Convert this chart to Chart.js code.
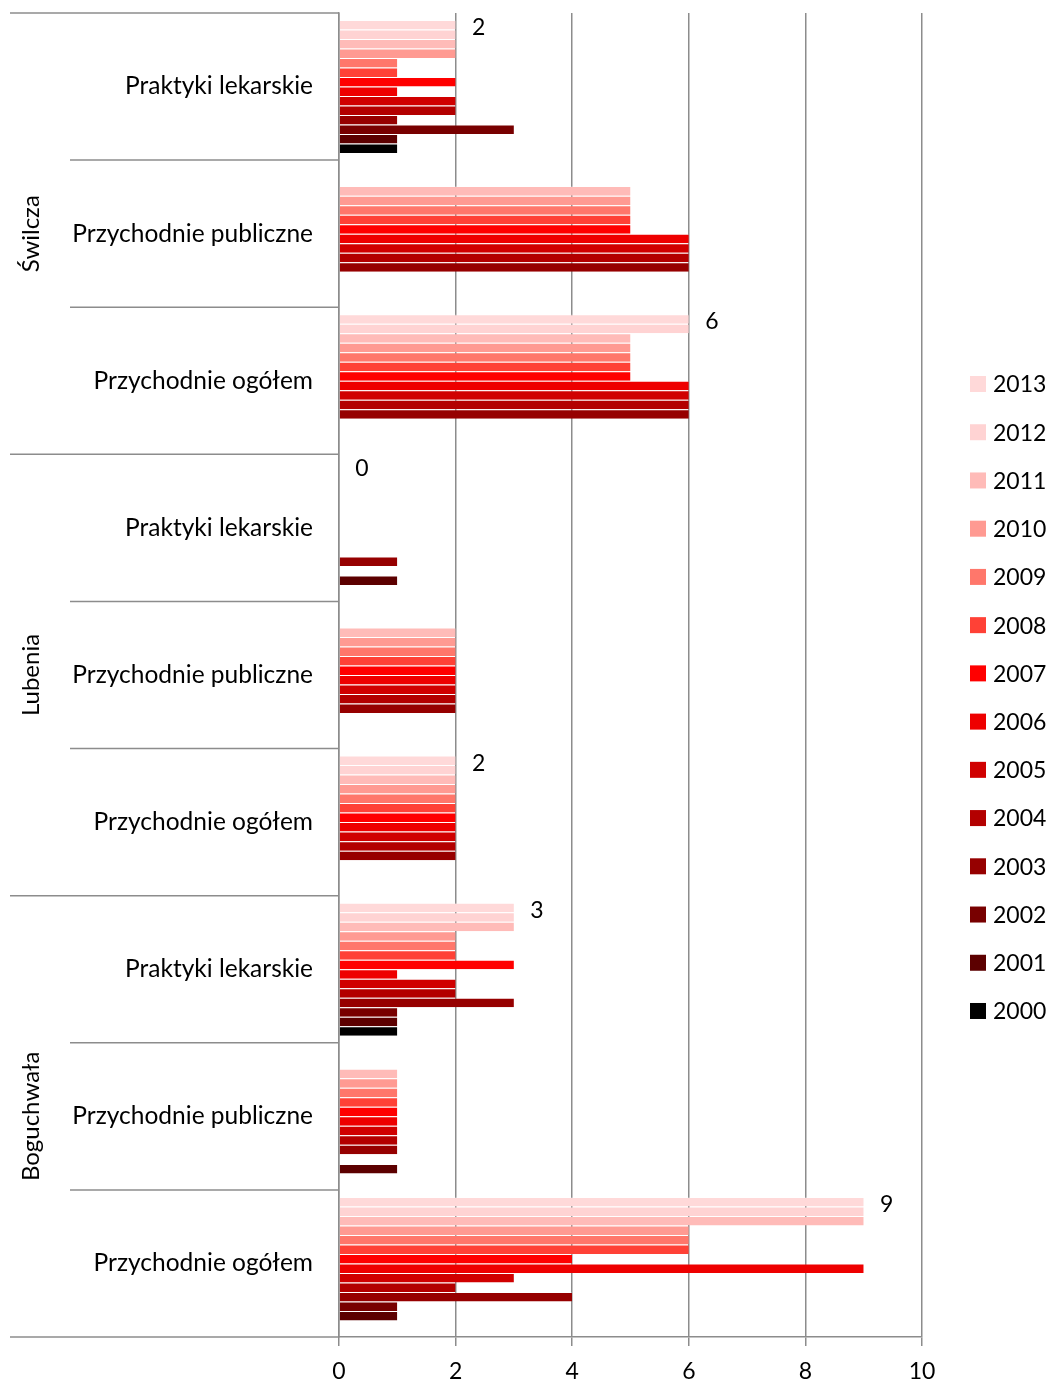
<!DOCTYPE html>
<html><head><meta charset="utf-8">
<script src="https://cdn.jsdelivr.net/npm/chart.js@4.4.1/dist/chart.umd.min.js"></script>
<style>html,body{margin:0;padding:0;background:#fff;} canvas{display:block;}</style>
</head><body>
<canvas id="c" width="1050" height="1384"></canvas>
<script>
// ---- DATA ----
const groups = ['Świlcza', 'Lubenia', 'Boguchwała'];
const subcategories = ['Praktyki lekarskie', 'Przychodnie publiczne', 'Przychodnie ogółem'];
const categories = groups.flatMap(() => subcategories);
const years = ['2013','2012','2011','2010','2009','2008','2007','2006','2005','2004','2003','2002','2001','2000'];
//            ŚPL  ŚPP   ŚPO   LPL LPP   LPO   BPL BPP   BPO
const y2013 = [2, null, 6,    0, null, 2,    3, null, 9];
const y2012 = [2, null, 6,    0, null, 2,    3, null, 9];
const y2011 = [2, 5,    5,    0, 2,    2,    3, 1,    9];
const y2010 = [2, 5,    5,    0, 2,    2,    2, 1,    6];
const y2009 = [1, 5,    5,    0, 2,    2,    2, 1,    6];
const y2008 = [1, 5,    5,    0, 2,    2,    2, 1,    6];
const y2007 = [2, 5,    5,    0, 2,    2,    3, 1,    4];
const y2006 = [1, 6,    6,    0, 2,    2,    1, 1,    9];
const y2005 = [2, 6,    6,    0, 2,    2,    2, 1,    3];
const y2004 = [2, 6,    6,    0, 2,    2,    2, 1,    2];
const y2003 = [1, 6,    6,    1, 2,    2,    3, 1,    4];
const y2002 = [3, null, null, 0, null, null, 1, null, 1];
const y2001 = [1, null, null, 1, null, null, 1, 1,    1];
const y2000 = [1, null, null, 0, null, null, 1, null, null];
const seriesValues = [y2013,y2012,y2011,y2010,y2009,y2008,y2007,y2006,y2005,y2004,y2003,y2002,y2001,y2000];
const xTicks = [0, 2, 4, 6, 8, 10];

// ---- STYLE ----
const seriesColors = ['#FFD9D9','#FFD3D3','#FFBBB8','#FF9A92','#FF776B','#FF4136','#FF0000','#EE0000','#D00000','#B30000','#960000','#780000','#5C0000','#000000'];
const gridGray = '#8c8c8c';
const FONT = 'Lato';

const datasets = years.map((yr, i) => ({
  label: yr,
  data: seriesValues[i],
  backgroundColor: seriesColors[i],
  borderColor: 'rgba(255,255,255,0.2)',
  borderWidth: {top: 1, right: 0, bottom: 0, left: 0},
  borderSkipped: false
}));

const decor = {
  id: 'decor',
  afterDraw(chart) {
    const {ctx, chartArea} = chart;
    const y = chart.scales.y;
    const n = chart.data.labels.length;
    const bounds = [];
    for (let i = 0; i <= n; i++) {
      let py;
      if (i === 0) py = chartArea.top;
      else if (i === n) py = chartArea.bottom;
      else py = (y.getPixelForValue(i - 1) + y.getPixelForValue(i)) / 2;
      bounds.push(py);
    }
    ctx.save();
    ctx.strokeStyle = gridGray;
    ctx.lineWidth = 1.5;
    bounds.forEach((py, i) => {
      const isGroup = i % subcategories.length === 0;
      ctx.beginPath();
      ctx.moveTo(isGroup ? 10 : 70, py);
      ctx.lineTo(chartArea.left, py);
      ctx.stroke();
    });
    // group labels
    ctx.fillStyle = '#000';
    ctx.font = '24px ' + FONT;
    ctx.textAlign = 'center';
    ctx.textBaseline = 'middle';
    groups.forEach((g, gi) => {
      const k = subcategories.length;
      const cy = (bounds[gi * k] + bounds[gi * k + k]) / 2;
      ctx.save();
      ctx.translate(31, cy);
      ctx.rotate(-Math.PI / 2);
      ctx.fillText(g, 0, 0);
      ctx.restore();
    });
    // data labels for 2013 series
    const meta = chart.getDatasetMeta(0);
    ctx.font = '23px ' + FONT;
    ctx.textAlign = 'center';
    meta.data.forEach((bar, i) => {
      const v = chart.data.datasets[0].data[i];
      if (v === null || v === undefined) return;
      ctx.fillText(String(v), bar.x + 23, bar.y + 3);
    });
    // legend
    ctx.textAlign = 'left';
    chart.data.datasets.forEach((ds, i) => {
      const cy = 384 + i * 48.23;
      ctx.fillStyle = ds.backgroundColor;
      ctx.fillRect(970, cy - 8, 16, 16);
      ctx.fillStyle = '#000';
      ctx.fillText(ds.label, 993, cy + 1);
    });
    ctx.restore();
  }
};

new Chart(document.getElementById('c'), {
  type: 'bar',
  data: { labels: categories, datasets },
  plugins: [decor],
  options: {
    indexAxis: 'y',
    responsive: false,
    animation: false,
    layout: { padding: { left: 10, top: 13, right: 128, bottom: 0 } },
    plugins: { legend: { display: false }, tooltip: { enabled: false } },
    datasets: { bar: { categoryPercentage: 0.905, barPercentage: 1 } },
    scales: {
      x: {
        min: xTicks[0], max: xTicks[xTicks.length - 1],
        afterBuildTicks(s) { s.ticks = xTicks.map(v => ({ value: v })); },
        ticks: { color: '#000', font: { family: FONT, size: 23 }, padding: 12 },
        grid: { color: gridGray, lineWidth: 1.5, tickLength: 9, drawTicks: true },
        border: { color: gridGray, width: 1.5 },
        afterFit(s) { s.height = 47; s.paddingLeft = 0; s.paddingRight = 0; }
      },
      y: {
        ticks: { color: '#000', font: { family: FONT, size: 24.5 }, padding: 26, autoSkip: false },
        grid: { display: false, drawTicks: false },
        border: { display: true, color: gridGray, width: 1.5 },
        afterFit(s) { s.width = 329; s.paddingTop = 0; s.paddingBottom = 0; }
      }
    }
  }
});
</script>
</body></html>
